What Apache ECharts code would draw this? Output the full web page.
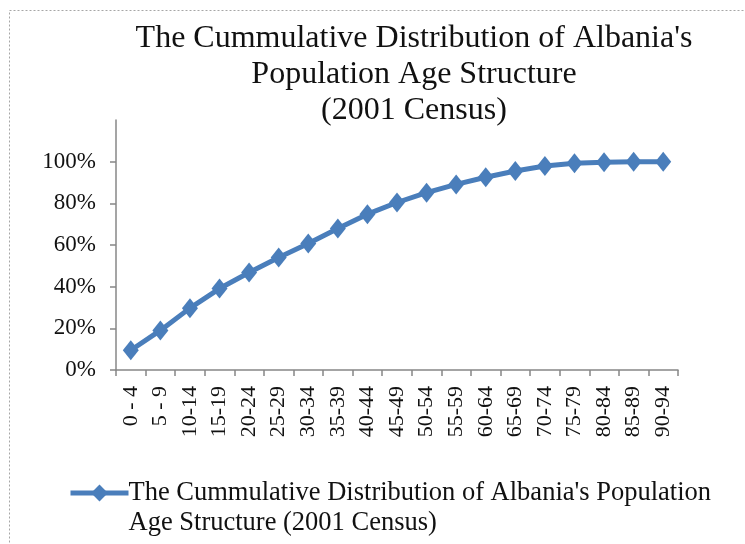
<!DOCTYPE html>
<html>
<head>
<meta charset="utf-8">
<script src="https://cdn.jsdelivr.net/npm/echarts@6/dist/echarts.min.js"></script>
<style>
  html, body { margin: 0; padding: 0; background: #fff; }
  #chart { width: 745px; height: 544px; }
</style>
</head>
<body>
<div id="chart"></div>
<script>
// Age groups of the 2001 census
const ageGroups = ['0 - 4', '5 - 9', '10-14', '15-19', '20-24', '25-29', '30-34', '35-39',
  '40-44', '45-49', '50-54', '55-59', '60-64', '65-69', '70-74', '75-79', '80-84', '85-89', '90-94'];

// Cumulative share of the population (fraction of total)
const cumulativeShare = [0.095, 0.190, 0.297, 0.391, 0.468, 0.540, 0.607, 0.679, 0.748, 0.804,
  0.851, 0.891, 0.925, 0.955, 0.979, 0.992, 0.997, 1.000, 1.000];

// Labelled y ticks
const yTicks = [0, 0.2, 0.4, 0.6, 0.8, 1.0];

const seriesName = "The Cummulative Distribution of Albania's Population Age Structure (2001 Census)";
const titleText = "The Cummulative Distribution of Albania's\nPopulation Age Structure\n(2001 Census)";

const serif = '"Liberation Serif", "Times New Roman", serif';
const axisGrey = '#878787';
const lineBlue = '#4a7ebb';

const chart = echarts.init(document.getElementById('chart'), null, { renderer: 'canvas' });

chart.setOption({
  animation: false,
  backgroundColor: '#fff',
  graphic: [{
    type: 'rect',
    silent: true,
    shape: { x: 9.5, y: 10.5, width: 800, height: 600 },
    style: { fill: 'none', stroke: '#a6a6a6', lineWidth: 1, lineDash: [2, 2] }
  }],
  title: {
    text: titleText,
    left: 409,
    top: 16,
    textAlign: 'center',
    textStyle: {
      fontFamily: serif,
      fontSize: 32,
      fontWeight: 'normal',
      color: '#111',
      lineHeight: 36
    }
  },
  legend: {
    left: 63,
    top: 443,
    itemWidth: 58,
    itemHeight: 21,
    itemGap: 0,
    data: [seriesName],
    lineStyle: { width: 5 },
    formatter: () => "\nThe Cummulative Distribution of Albania's Population\nAge Structure (2001 Census)",
    textStyle: {
      fontFamily: serif,
      fontSize: 26.5,
      color: '#111',
      lineHeight: 30,
      padding: [0, 0, 0, -5]
    }
  },
  grid: {
    left: 116,
    right: 67,
    top: 120,
    bottom: 174,
    containLabel: false
  },
  xAxis: {
    type: 'category',
    data: ageGroups,
    boundaryGap: true,
    axisLine: { lineStyle: { color: axisGrey, width: 1.5 } },
    axisTick: { show: true, alignWithLabel: false, length: 6, lineStyle: { color: axisGrey, width: 1.5 } },
    axisLabel: {
      rotate: 90,
      interval: 0,
      margin: 16,
      fontFamily: serif,
      fontSize: 22,
      color: '#111'
    },
    splitLine: { show: false }
  },
  yAxis: {
    type: 'value',
    min: 0,
    max: 1.2,
    interval: 0.2,
    axisLine: { show: true, lineStyle: { color: axisGrey, width: 1.5 } },
    axisTick: { show: true, length: 6, customValues: yTicks, lineStyle: { color: axisGrey, width: 1.5 } },
    axisLabel: {
      customValues: yTicks,
      margin: 20,
      fontFamily: serif,
      fontSize: 23,
      color: '#111',
      formatter: v => Math.round(v * 100) + '%'
    },
    splitLine: { show: false }
  },
  series: [{
    name: seriesName,
    type: 'line',
    data: cumulativeShare,
    symbol: 'diamond',
    symbolSize: [16, 20],
    lineStyle: { color: lineBlue, width: 5 },
    itemStyle: { color: lineBlue },
    emphasis: { disabled: true }
  }]
});
</script>
</body>
</html>
